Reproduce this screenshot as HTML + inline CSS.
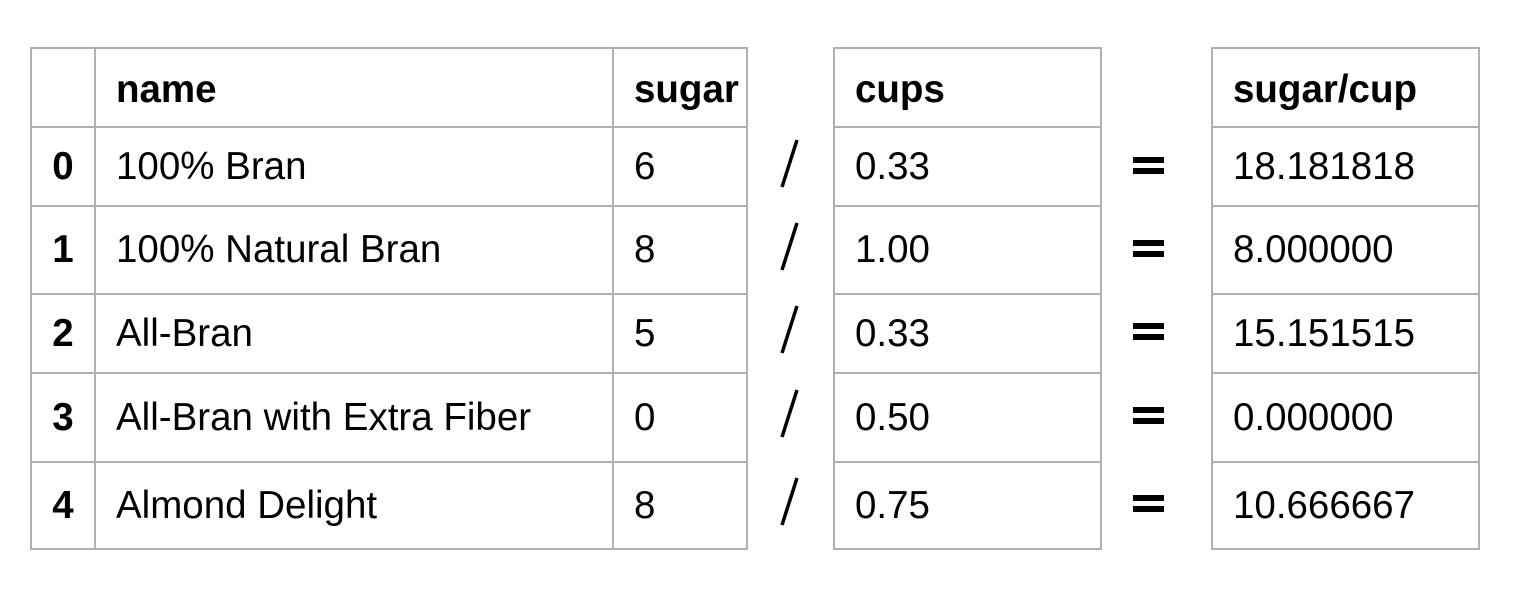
<!DOCTYPE html>
<html><head><meta charset="utf-8"><style>
body{margin:0;width:1522px;height:592px;background:#fff;position:relative;overflow:hidden;font-family:"Liberation Sans",sans-serif;color:#000}
.t{position:absolute;border-collapse:collapse;font-size:38.5px}
.t td{border:2px solid #b0b0b0;padding:0 0 0 20px;box-sizing:border-box;white-space:nowrap}
.t th{border:2px solid #b0b0b0;padding:4px 0 0 20px;text-align:left;font-weight:bold;box-sizing:border-box;white-space:nowrap}
.t td.i{font-weight:bold;padding:0;text-align:center}
.eq{position:absolute;width:31px;height:6px;background:#000}
</style></head><body>
<table class="t" style="left:30px;top:47px;width:716px;table-layout:fixed">
<colgroup><col style="width:64px"><col style="width:518px"><col style="width:134px"></colgroup>
<tr style="height:79px"><th style="padding:0"></th><th>name</th><th>sugar</th></tr>
<tr style="height:79px"><td class="i">0</td><td>100% Bran</td><td>6</td></tr>
<tr style="height:88px"><td class="i">1</td><td>100% Natural Bran</td><td>8</td></tr>
<tr style="height:79px"><td class="i">2</td><td>All-Bran</td><td>5</td></tr>
<tr style="height:89px"><td class="i">3</td><td>All-Bran with Extra Fiber</td><td>0</td></tr>
<tr style="height:87px"><td class="i">4</td><td>Almond Delight</td><td>8</td></tr>
</table>
<table class="t" style="left:833px;top:47px;width:269px;table-layout:fixed">
<tr style="height:79px"><th>cups</th></tr>
<tr style="height:79px"><td>0.33</td></tr>
<tr style="height:88px"><td>1.00</td></tr>
<tr style="height:79px"><td>0.33</td></tr>
<tr style="height:89px"><td>0.50</td></tr>
<tr style="height:87px"><td>0.75</td></tr>
</table>
<table class="t" style="left:1211px;top:47px;width:269px;table-layout:fixed">
<tr style="height:79px"><th>sugar/cup</th></tr>
<tr style="height:79px"><td>18.181818</td></tr>
<tr style="height:88px"><td>8.000000</td></tr>
<tr style="height:79px"><td>15.151515</td></tr>
<tr style="height:89px"><td>0.000000</td></tr>
<tr style="height:87px"><td>10.666667</td></tr>
</table>
<svg width="1522" height="592" style="position:absolute;left:0;top:0">
<g stroke="#000" stroke-width="3.5">
<line x1="797" y1="140" x2="782" y2="187"/>
<line x1="797" y1="223" x2="782" y2="270"/>
<line x1="797" y1="306" x2="782" y2="353"/>
<line x1="797" y1="390" x2="782" y2="437"/>
<line x1="797" y1="478" x2="782" y2="525"/>
</g></svg>
<div>
<div class="eq" style="left:1133px;top:157px"></div><div class="eq" style="left:1133px;top:168px"></div>
<div class="eq" style="left:1133px;top:240px"></div><div class="eq" style="left:1133px;top:251px"></div>
<div class="eq" style="left:1133px;top:323px"></div><div class="eq" style="left:1133px;top:334px"></div>
<div class="eq" style="left:1133px;top:407px"></div><div class="eq" style="left:1133px;top:418px"></div>
<div class="eq" style="left:1133px;top:495px"></div><div class="eq" style="left:1133px;top:506px"></div>
</div>
</body></html>
